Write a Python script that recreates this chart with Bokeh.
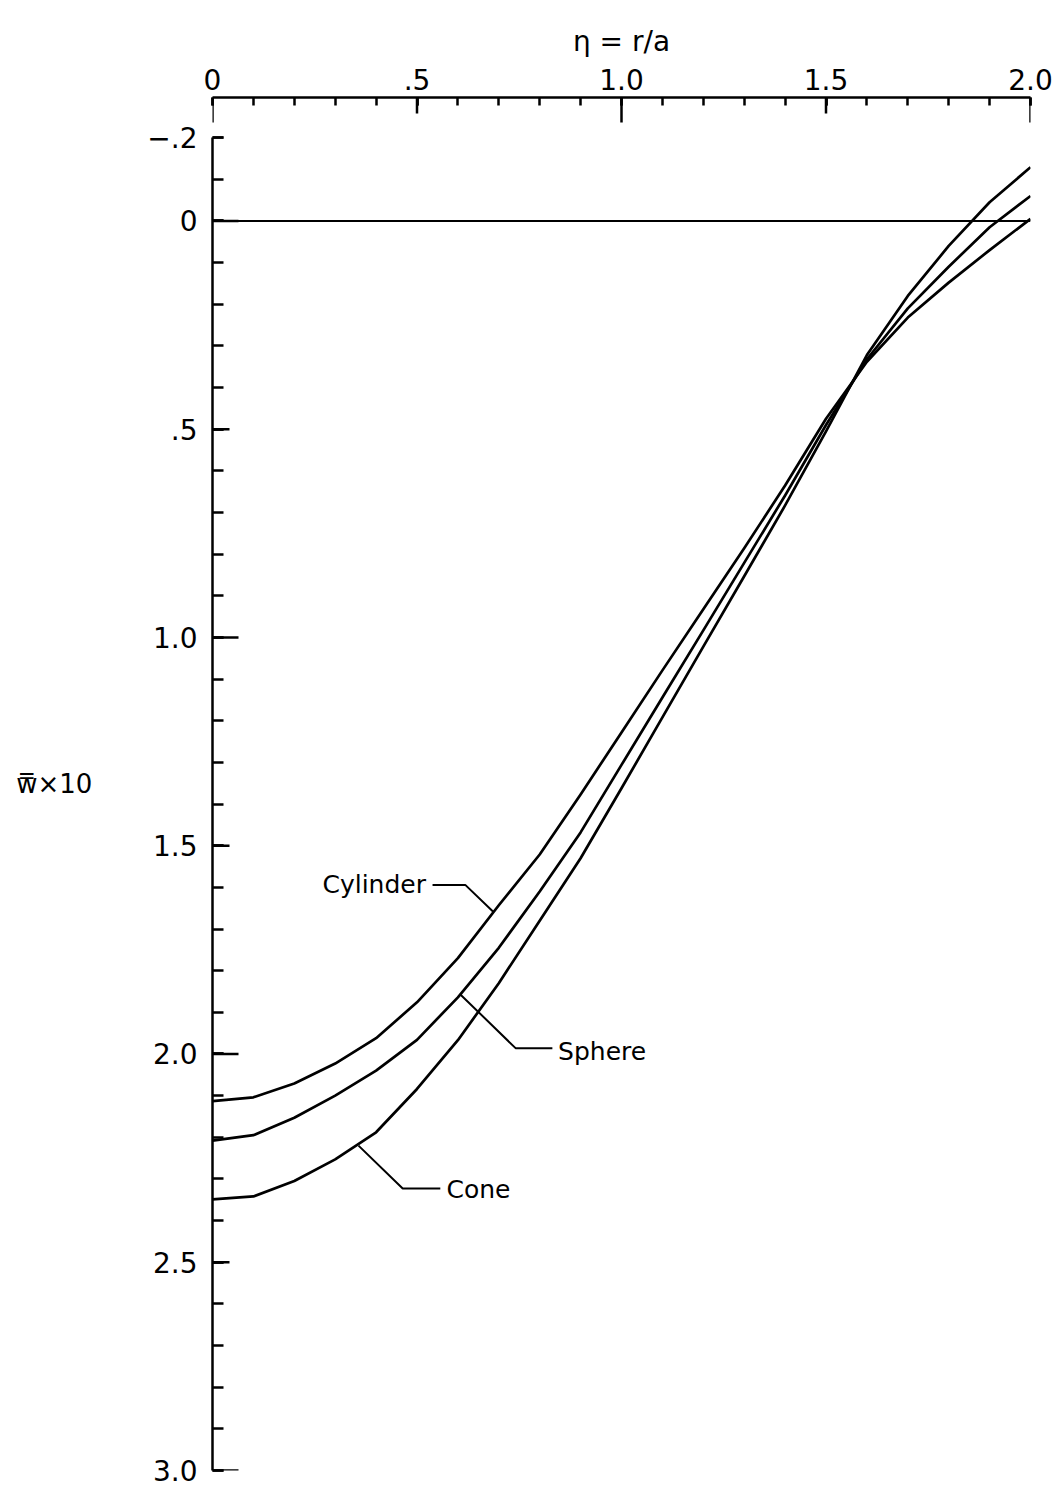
from bokeh.plotting import figure
from bokeh.models import Range1d, FixedTicker, Span, Label
from bokeh.embed import file_html
from bokeh.resources import INLINE

# ---- data ----
eta = [0.0, 0.1, 0.2, 0.3, 0.4, 0.5, 0.6, 0.7, 0.8, 0.9, 1.0,
       1.1, 1.2, 1.3, 1.4, 1.5, 1.6, 1.7, 1.8, 1.9, 2.0]
cylinder = [2.113, 2.104, 2.071, 2.023, 1.962, 1.876, 1.770, 1.643, 1.521, 1.377, 1.228,
            1.079, 0.932, 0.786, 0.635, 0.475, 0.338, 0.232, 0.148, 0.070, -0.005]
sphere = [2.208, 2.195, 2.153, 2.100, 2.040, 1.966, 1.864, 1.745, 1.610, 1.468, 1.306,
          1.144, 0.983, 0.821, 0.659, 0.490, 0.332, 0.210, 0.110, 0.015, -0.060]
cone = [2.349, 2.342, 2.305, 2.253, 2.188, 2.084, 1.967, 1.830, 1.680, 1.530, 1.362,
        1.192, 1.022, 0.853, 0.683, 0.505, 0.322, 0.180, 0.060, -0.045, -0.129]

x_ticks = [0.0, 0.5, 1.0, 1.5, 2.0]
x_tick_labels = ["0", ".5", "1.0", "1.5", "2.0"]
y_ticks = [-0.2, 0.0, 0.5, 1.0, 1.5, 2.0, 2.5, 3.0]
y_tick_labels = ["\u2212.2", "0", ".5", "1.0", "1.5", "2.0", "2.5", "3.0"]

x_title = "\u03b7 = r/a"
y_title = "w\u033f\u00d710"

# ---- layout ----
FONT = "DejaVu Sans"
LEFT, TOP, FW, FH, BOTTOM, RIGHT = 212, 97, 818, 1373, 20, 30
X0, X1 = 0.0, 2.0
Y_BOTTOM, Y_TOP = 3.0, -0.2964
px_x = FW / (X1 - X0)
px_y = FH / (Y_BOTTOM - Y_TOP)

p = figure(width=LEFT + FW + RIGHT, height=TOP + FH + BOTTOM, output_backend="svg",
           toolbar_location=None, x_axis_location="above", y_axis_location="left",
           x_range=Range1d(X0, X1), y_range=Range1d(Y_BOTTOM, Y_TOP),
           min_border_left=LEFT, min_border_top=TOP, min_border_right=RIGHT,
           min_border_bottom=BOTTOM)
p.outline_line_color = None
p.xgrid.visible = False
p.ygrid.visible = False
p.background_fill_color = "white"
p.border_fill_color = "white"

minor_x = [round(i * 0.1, 1) for i in range(0, 21)]
minor_y = [round(i * 0.1, 1) for i in range(-2, 31)]

def style_axis(ax):
    ax.major_tick_out = 0
    ax.minor_tick_out = 0
    ax.axis_line_width = 2.5
    ax.major_tick_line_width = 2.5
    ax.minor_tick_line_width = 2.5
    ax.axis_line_color = "black"
    ax.major_tick_line_color = "black"
    ax.minor_tick_line_color = "black"
    ax.major_label_text_font = FONT
    ax.major_label_text_font_size = "28px"
    ax.major_label_text_color = "black"
    ax.axis_label_text_font = FONT
    ax.axis_label_text_font_style = "normal"
    ax.axis_label_text_color = "black"

xa = p.xaxis[0]
style_axis(xa)
xa.ticker = FixedTicker(ticks=x_ticks, minor_ticks=minor_x)
xa.major_label_overrides = dict(zip(x_ticks, x_tick_labels))
xa.major_tick_in = 8
xa.minor_tick_in = 8
xa.major_label_standoff = 8
xa.axis_label = x_title
xa.axis_label_text_font_size = "28px"
xa.axis_label_standoff = 8

ya = p.yaxis[0]
style_axis(ya)
ya.bounds = (-0.2, 3.0)
ya.ticker = FixedTicker(ticks=y_ticks, minor_ticks=minor_y)
ya.major_label_overrides = dict(zip(y_ticks, y_tick_labels))
ya.major_tick_in = 11
ya.minor_tick_in = 11
ya.major_label_standoff = 15
ya.axis_label = y_title
ya.axis_label_orientation = "horizontal"
ya.axis_label_text_font_size = "26px"
ya.axis_label_standoff = 52

# longer ticks for halves and whole numbers
x_half = [t for t in x_ticks if t % 1 != 0]
x_whole = [t for t in x_ticks if t % 1 == 0]
p.segment(x0=x_half, y0=[Y_TOP] * len(x_half), x1=x_half,
          y1=[Y_TOP + 16 / px_y] * len(x_half), line_color="black", line_width=2.5)
p.segment(x0=x_whole, y0=[Y_TOP] * len(x_whole), x1=x_whole,
          y1=[Y_TOP + 25 / px_y] * len(x_whole), line_color="black", line_width=2.5)
y_half = [t for t in y_ticks if t > 0 and t % 1 != 0]
y_whole = [t for t in y_ticks if t >= 0 and t % 1 == 0]
p.segment(x0=[X0] * len(y_half), y0=y_half, x1=[X0 + 17 / px_x] * len(y_half),
          y1=y_half, line_color="black", line_width=2.5)
p.segment(x0=[X0] * len(y_whole), y0=y_whole, x1=[X0 + 26 / px_x] * len(y_whole),
          y1=y_whole, line_color="black", line_width=2.5)

# zero line
p.add_layout(Span(location=0, dimension="width", line_color="black", line_width=2))

# curves
for series in (cylinder, sphere, cone):
    p.line(eta, series, line_color="black", line_width=2.7, line_join="round")

# leader lines and curve labels
p.line([0.538, 0.618, 0.687], [1.594, 1.594, 1.659], line_color="black", line_width=2)
p.line([0.606, 0.741, 0.831], [1.857, 1.986, 1.986], line_color="black", line_width=2)
p.line([0.357, 0.465, 0.557], [2.220, 2.323, 2.323], line_color="black", line_width=2)

def lab(x, y, t, align="left", size="25px"):
    p.add_layout(Label(x=x, y=y, text=t, text_font=FONT, text_font_size=size,
                       text_align=align, text_baseline="middle", text_color="black"))

lab(0.522, 1.594, "Cylinder", align="right")
lab(0.845, 1.993, "Sphere")
lab(0.572, 2.325, "Cone")

open("out.html", "w").write(file_html(p, INLINE))
